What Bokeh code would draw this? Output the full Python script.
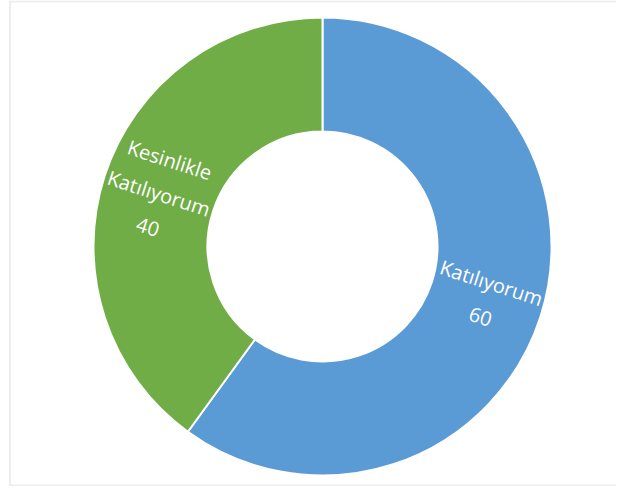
import numpy as np
from bokeh.plotting import figure
from bokeh.models import BoxAnnotation, ColumnDataSource
from bokeh.core.properties import value
from bokeh.embed import file_html
from bokeh.resources import INLINE

# ---- data ----
categories = ["Katılıyorum", "Kesinlikle Katılıyorum"]
values = [60, 40]
colors = ["#5B9BD5", "#70AD47"]

# ---- geometry (pixels; 1 data unit = 1 px) ----
W, H = 616, 486
cx, cy = 322, H - 246
r_out, r_in = 229, 115

total = float(sum(values))
frac = np.array(values, dtype=float) / total
cum = np.concatenate([[0.0], np.cumsum(frac)])
start = np.pi / 2 - 2 * np.pi * cum[:-1]
end = np.pi / 2 - 2 * np.pi * cum[1:]
mid = (start + end) / 2

r_mid = (r_out + r_in) / 2
lx = cx + r_mid * np.cos(mid)
ly = cy + r_mid * np.sin(mid)
rot = np.where(np.cos(mid) < 0, mid - np.pi, mid)
labels = [c.replace(" ", "\n") + "\n" + str(v) for c, v in zip(categories, values)]

src = ColumnDataSource(dict(start=start, end=end, color=colors,
                            x=[cx] * len(values), y=[cy] * len(values)))
lsrc = ColumnDataSource(dict(x=lx, y=ly, text=labels, angle=rot))

p = figure(width=W, height=H, x_range=(0, W), y_range=(0, H),
           output_backend="svg", toolbar_location=None,
           x_axis_location=None, y_axis_location=None, min_border=0)
p.grid.visible = False
p.outline_line_color = None
p.background_fill_color = "white"

p.annular_wedge(x="x", y="y", inner_radius=r_in, outer_radius=r_out,
                start_angle="start", end_angle="end", direction="clock",
                fill_color="color", line_color="white", line_width=2, source=src)

p.text(x="x", y="y", text="text", angle="angle", source=lsrc,
       text_color="white", text_font=value("Open Sans"), text_font_size="20px",
       text_align="center", text_baseline="middle", text_line_height=1.3)

p.add_layout(BoxAnnotation(left=9.5, right=W + 20, bottom=1, top=H - 1,
                           fill_color=None, fill_alpha=0,
                           line_color="#C4C4C4", line_width=2))

open("out.html", "w").write(file_html(p, INLINE))
